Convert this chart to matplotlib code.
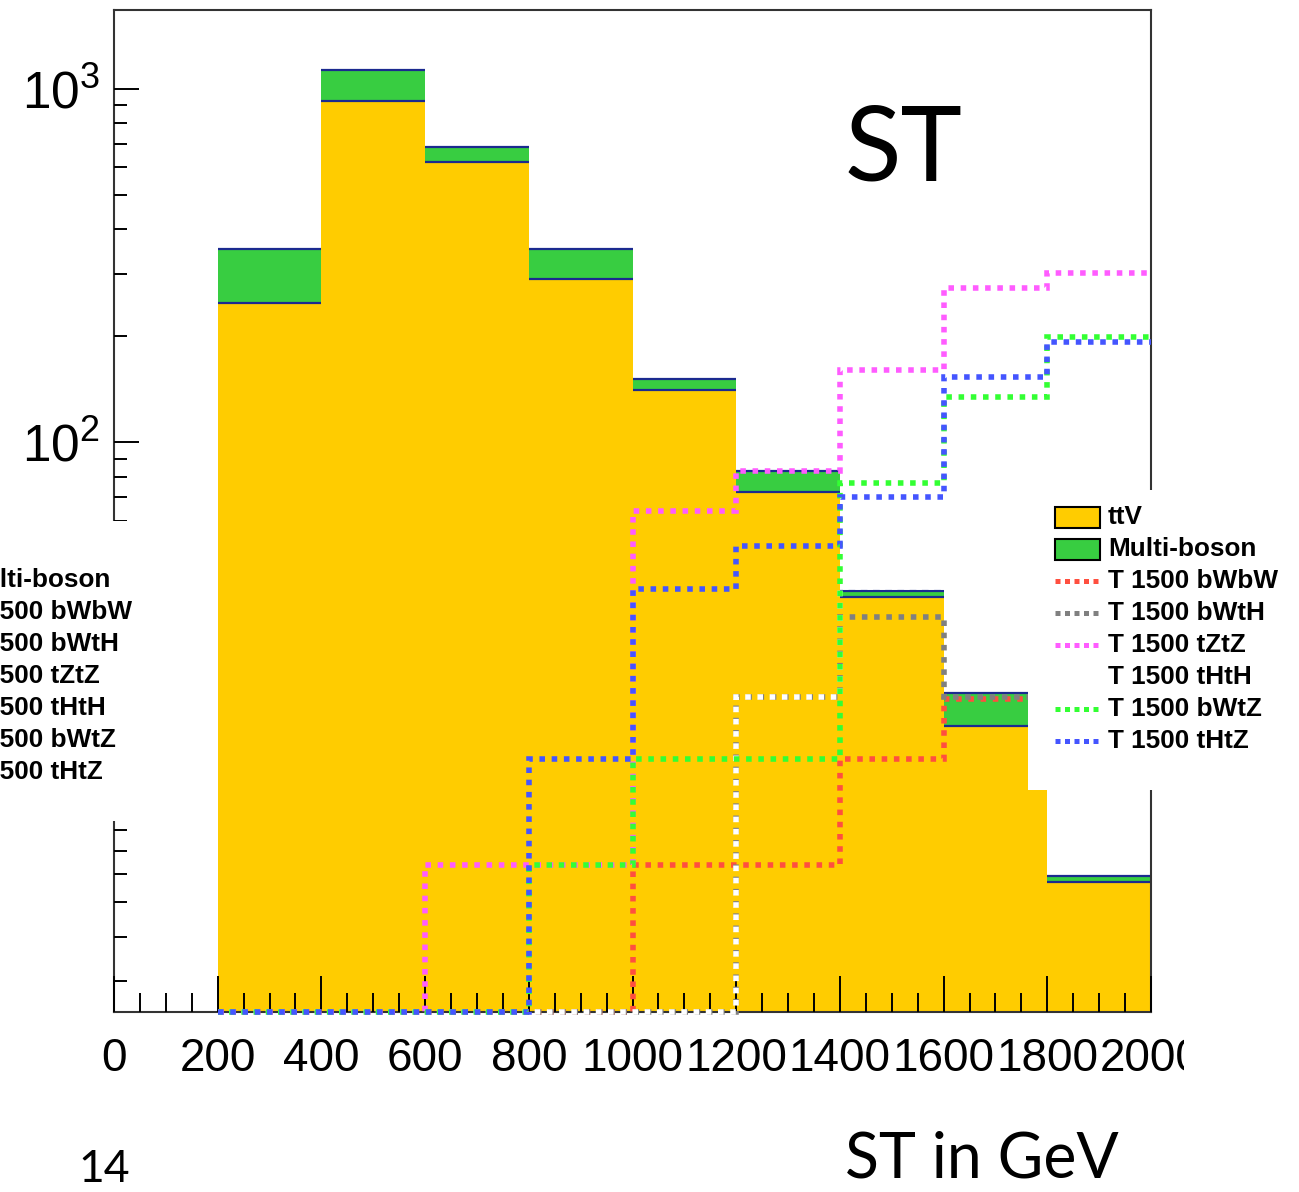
import numpy as np
import matplotlib
matplotlib.use('Agg')
import matplotlib.pyplot as plt
from matplotlib.patches import Rectangle
from matplotlib.lines import Line2D
from matplotlib.ticker import MultipleLocator, NullFormatter
from matplotlib import font_manager

W, H = 1299, 1192

# bins in ST (GeV)
edges = [200, 400, 600, 800, 1000, 1200, 1400, 1600, 1800, 2000]

# backgrounds (stacked)
ttV = [248, 925, 622, 290, 141, 72.3, 36.5, 15.8, 5.71]
multiboson = [105, 208, 63, 63, 10, 10.5, 1.4, 3.7, 0.23]

# signals, T mass 1500
bWbW = [0, 0, 0, 0, 6.4, 6.4, 12.7, 18.8, 25]
bWtH = [0, 0, 0, 0, 0, 19.0, 32.0, 19.0, 28]
tZtZ = [0, 0, 6.4, 6.4, 63.8, 82.8, 160.7, 274, 302]
tHtH = [0, 0, 0, 0, 0, 19.0, 39.0, 60, 90]
bWtZ = [0, 0, 0, 6.4, 12.7, 12.7, 76.6, 134, 198]
tHtZ = [0, 0, 0, 12.7, 38.4, 50.9, 70.0, 153.5, 192.8]

bkg_labels = ['ttV', 'Multi-boson']
sig_labels = ['T 1500 bWbW', 'T 1500 bWtH', 'T 1500 tZtZ',
              'T 1500 tHtH', 'T 1500 bWtZ', 'T 1500 tHtZ']
xticks = [0, 200, 400, 600, 800, 1000, 1200, 1400, 1600, 1800, 2000]
yticks = [10, 100, 1000]
ytick_labels = [r'$10^{1}$', r'$10^{2}$', r'$10^{3}$']

yellow = '#ffcc00'
green = '#38cd41'
navy = '#1b2a8f'
sig_colors = ['#ff4f3f', '#808080', '#ff5cff', '#ffffff', '#33ff33', '#4455ff']
sig_phase = [0, 0, 0, 1.15, 1.15, 0]
signals = [bWbW, bWtH, tZtZ, tHtH, bWtZ, tHtZ]

plt.rcParams['mathtext.fontset'] = 'custom'
plt.rcParams['mathtext.rm'] = 'Liberation Sans'
plt.rcParams['mathtext.it'] = 'Liberation Sans'
plt.rcParams['mathtext.default'] = 'rm'

names = {f.name for f in font_manager.fontManager.ttflist}
if 'Liberation Sans Narrow' in names:
    xfont, xsize = 'Liberation Sans Narrow', 36
else:
    xfont, xsize = 'Liberation Sans', 33

ymin, ymax = 2.45, 1670

fig = plt.figure(figsize=(W / 100, H / 100), dpi=100)
ax = fig.add_axes([114 / W, 1 - 1012 / H, (1151 - 114) / W, (1012 - 10) / H])

total = np.array(ttV) + np.array(multiboson)
ax.stairs(total, edges, baseline=1e-3, fill=True, color=green, lw=0, zorder=1)
ax.stairs(ttV, edges, baseline=1e-3, fill=True, color=yellow, lw=0, zorder=1)
ax.hlines(total, edges[:-1], edges[1:], color=navy, lw=1.6, zorder=1.5)
ax.hlines(ttV, edges[:-1], edges[1:], color=navy, lw=1.6, zorder=1.5)

for vals, col, ph in zip(signals, sig_colors, sig_phase):
    # empty bins sit on the lower edge of the frame
    v = np.maximum(np.array(vals, dtype=float), ymin)
    ax.stairs(v, edges, baseline=None, color=col, lw=4.0,
              ls=(ph * 4.0, (1, 1.2)), zorder=3, clip_on=False)

ax.set_xlim(0, 2000)
ax.set_yscale('log')
ax.set_ylim(ymin, ymax)
ax.set_axisbelow(False)

ax.set_xticks(xticks)
ax.xaxis.set_minor_locator(MultipleLocator(50))
ax.set_yticks(yticks, labels=ytick_labels)
ax.yaxis.set_minor_formatter(NullFormatter())

ax.tick_params(which='both', direction='in', top=False, right=False,
               color='black', width=1.4)
ax.tick_params(axis='x', which='major', length=26, pad=18,
               labelsize=xsize, labelfontfamily=xfont)
ax.tick_params(axis='x', which='minor', length=14)
ax.tick_params(axis='y', which='major', length=18, pad=10, labelsize=37)
ax.tick_params(axis='y', which='minor', length=9.5)
for s in ax.spines.values():
    s.set_linewidth(1.5)
    s.set_color('#333333')


def fxy(x, y):
    return x / W, 1 - y / H


def draw_key(dx, dy):
    # white key box with entries, in figure pixels
    fig.add_artist(Rectangle(fxy(1028 + dx, 790 + dy), 265 / W, 300 / H,
                             transform=fig.transFigure, facecolor='white',
                             edgecolor='none', zorder=10))
    entries = [(l, 'fill', c) for l, c in zip(bkg_labels, [yellow, green])]
    entries += [(l, 'line', c) for l, c in zip(sig_labels, sig_colors)]
    for i, (lab, kind, col) in enumerate(entries):
        yc = 517 + 32 * i + dy
        if kind == 'fill':
            fig.add_artist(Rectangle(fxy(1055 + dx, yc + 10.5), 45 / W, 21 / H,
                                     transform=fig.transFigure, facecolor=col,
                                     edgecolor='black', lw=1.5, zorder=11))
        else:
            fig.add_artist(Line2D([(1055 + dx) / W, (1100 + dx) / W],
                                  [1 - yc / H, 1 - yc / H],
                                  transform=fig.transFigure, color=col,
                                  lw=3.6, ls=(0, (1, 0.9)), zorder=11))
        fig.text((1108 + dx) / W, 1 - yc / H, lab, fontsize=18.8,
                 fontweight='bold', family='Liberation Sans',
                 va='center', ha='left', zorder=12)


draw_key(0, 0)
draw_key(-1146, 31)

# cropped edge of the slide image
fig.add_artist(Rectangle(fxy(1184, 1100), 120 / W, 75 / H,
                         transform=fig.transFigure, facecolor='white',
                         edgecolor='none', zorder=10))

fig.text(845 / W, 1 - 180 / H, 'ST', fontsize=75, family='Lato', va='baseline')
fig.text(845 / W, 1 - 1178 / H, 'ST in GeV', fontsize=45, family='Lato',
         va='baseline')
fig.text(78 / W, 1 - 1182 / H, '14', fontsize=32, family='Lato', va='baseline')

fig.savefig('out.png', dpi=100)
